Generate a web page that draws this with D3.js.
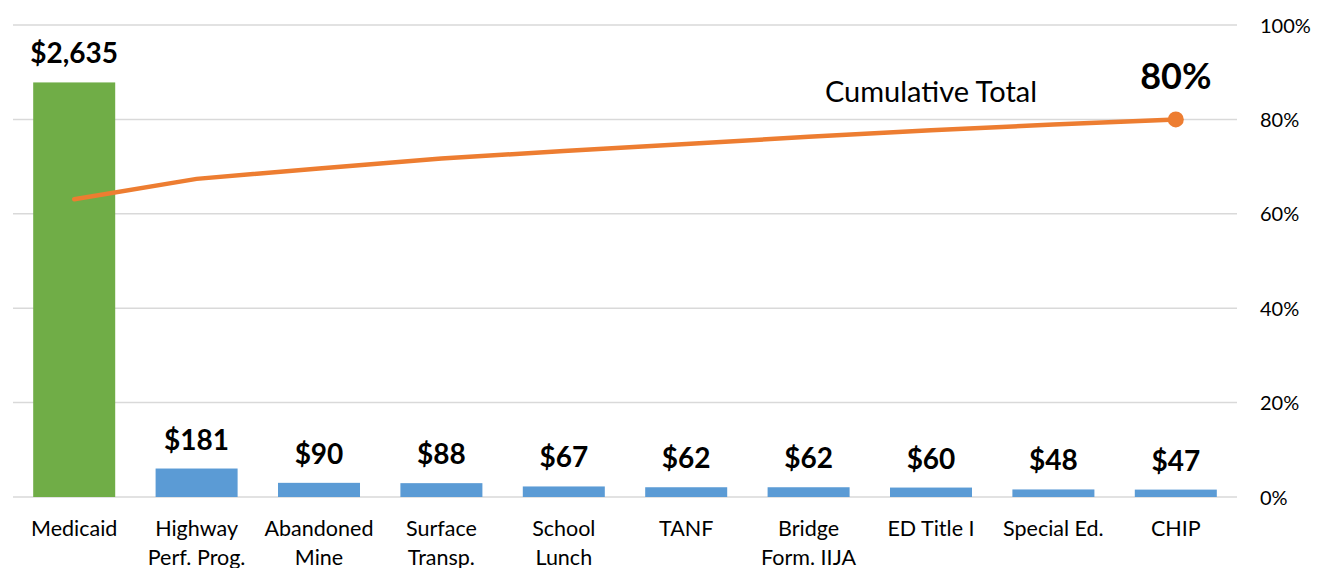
<!DOCTYPE html>
<html>
<head>
<meta charset="utf-8">
<script src="https://cdn.jsdelivr.net/npm/d3@7"></script>
<style>
  body { margin: 0; background: #fff; }
  svg text { font-family: Lato, "Open Sans", sans-serif; fill: #000; }
</style>
</head>
<body>
<div id="root"></div>
<script>
// data
const programs = ["Medicaid", "Highway\nPerf. Prog.", "Abandoned\nMine", "Surface\nTransp.", "School\nLunch",
                  "TANF", "Bridge\nForm. IIJA", "ED Title I", "Special Ed.", "CHIP"];
const amounts = [2635, 181, 90, 88, 67, 62, 62, 60, 48, 47];
const cumulativePct = [0.631, 0.674, 0.696, 0.717, 0.733, 0.748, 0.763, 0.777, 0.789, 0.80];
const pctTicks = [0, 0.2, 0.4, 0.6, 0.8, 1.0];

const width = 1324, height = 568;
const margin = {top: 25, right: 87, bottom: 71, left: 13};

const svg = d3.select("#root").append("svg")
    .attr("width", width)
    .attr("height", height);

const x = d3.scaleBand()
    .domain(programs)
    .range([margin.left, width - margin.right])
    .paddingInner(0.33)
    .paddingOuter(0.165);

const yBar = d3.scaleLinear().domain([0, 3000]).range([height - margin.bottom, margin.top]);
const yPct = d3.scaleLinear().domain([0, 1]).range([height - margin.bottom, margin.top]);

// gridlines
svg.append("g").selectAll("line")
    .data(pctTicks)
    .enter().append("line")
    .attr("x1", margin.left)
    .attr("x2", width - margin.right)
    .attr("y1", d => yPct(d))
    .attr("y2", d => yPct(d))
    .style("stroke", "#d9d9d9")
    .style("stroke-width", 1.5);

// right axis labels
const rightAxis = svg.append("g")
    .attr("transform", `translate(${width - margin.right + 20},0)`)
    .call(d3.axisRight(yPct).tickValues(pctTicks).tickFormat(d3.format(".0%")).tickSize(0));
rightAxis.select(".domain").remove();
rightAxis.selectAll("text").style("font-size", "20px").attr("dx", 0).attr("dy", "0.35em");

// bars
svg.append("g").selectAll("rect")
    .data(amounts)
    .enter().append("rect")
    .attr("x", (d, i) => x(programs[i]))
    .attr("width", x.bandwidth())
    .attr("y", d => yBar(d))
    .attr("height", d => yBar(0) - yBar(d))
    .style("fill", (d, i) => i === 0 ? "#70AD47" : "#5B9BD5");

// value labels
svg.append("g").selectAll("text")
    .data(amounts)
    .enter().append("text")
    .attr("x", (d, i) => x(programs[i]) + x.bandwidth() / 2)
    .attr("y", d => yBar(d) - 19)
    .attr("text-anchor", "middle")
    .style("font-size", "28px")
    .style("font-weight", "bold")
    .text(d => "$" + d3.format(",")(d));

// category labels
const cats = svg.append("g").selectAll("text")
    .data(programs)
    .enter().append("text")
    .attr("x", d => x(d) + x.bandwidth() / 2)
    .attr("y", 536)
    .attr("text-anchor", "middle")
    .style("font-size", "21.5px");
cats.selectAll("tspan")
    .data(d => d.split("\n"))
    .enter().append("tspan")
    .attr("x", function() { return d3.select(this.parentNode).attr("x"); })
    .attr("dy", (d, i) => i === 0 ? 0 : 29)
    .text(d => d);

// cumulative line
const line = d3.line()
    .x((d, i) => x(programs[i]) + x.bandwidth() / 2)
    .y(d => yPct(d));

svg.append("path")
    .datum(cumulativePct)
    .attr("d", line)
    .style("fill", "none")
    .style("stroke", "#ED7D31")
    .style("stroke-width", 4.5)
    .style("stroke-linecap", "round");

const last = cumulativePct.length - 1;
svg.append("circle")
    .attr("cx", x(programs[last]) + x.bandwidth() / 2)
    .attr("cy", yPct(cumulativePct[last]))
    .attr("r", 8)
    .style("fill", "#ED7D31");

svg.append("text")
    .attr("x", x(programs[last]) + x.bandwidth() / 2)
    .attr("y", 89)
    .attr("text-anchor", "middle")
    .style("font-size", "36px")
    .style("font-weight", "bold")
    .text(d3.format(".0%")(cumulativePct[last]));

svg.append("text")
    .attr("x", 931)
    .attr("y", 102)
    .attr("text-anchor", "middle")
    .style("font-size", "29px")
    .text("Cumulative Total");
</script>
</body>
</html>
